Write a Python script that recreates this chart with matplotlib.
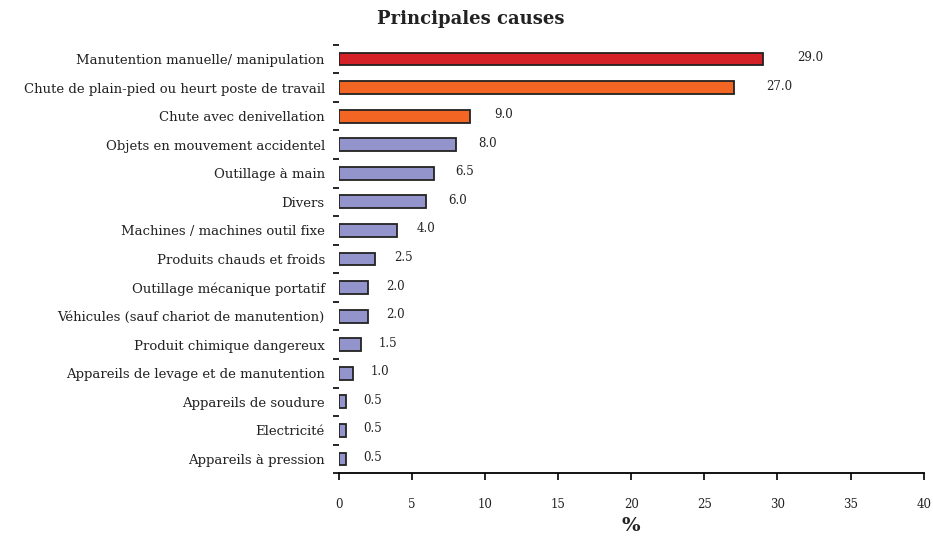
import numpy as np
import matplotlib

matplotlib.use("Agg")
import matplotlib.pyplot as plt

CAUSES = [
    "Manutention manuelle/ manipulation",
    "Chute de plain-pied ou heurt poste de travail",
    "Chute avec denivellation",
    "Objets en mouvement accidentel",
    "Outillage à main",
    "Divers",
    "Machines / machines outil fixe",
    "Produits chauds et froids",
    "Outillage mécanique portatif",
    "Véhicules (sauf chariot de manutention)",
    "Produit chimique dangereux",
    "Appareils de levage et de manutention",
    "Appareils de soudure",
    "Electricité",
    "Appareils à pression",
]
PERCENT = [29.0, 27.0, 9.0, 8.0, 6.5, 6.0, 4.0, 2.5, 2.0, 2.0, 1.5, 1.0, 0.5, 0.5, 0.5]
X_TICKS = [0, 5, 10, 15, 20, 25, 30, 35, 40]

RED, ORANGE, LAVENDER = "#d42027", "#f26522", "#9494cc"
colors = [RED, ORANGE, ORANGE] + [LAVENDER] * (len(CAUSES) - 3)

plt.rcParams["font.family"] = ["DejaVu Serif"]

fig = plt.figure(figsize=(9.33, 5.39), dpi=100)
ax = fig.add_axes([0.363, 0.122, 0.627, 0.795])

y = np.arange(len(CAUSES))
ax.barh(y, PERCENT, height=0.45, color=colors, edgecolor="#222222", linewidth=1.3)

# value labels, pushed a bit further out for the long bars (as in the source)
for yi, v in zip(y, PERCENT):
    ax.text(v * 1.05 + 1.8, yi - 0.05, f"{v:.1f}", ha="center", va="center",
            fontsize=8.5, color="#222222")

ax.set_ylim(len(CAUSES) - 0.5, -0.5)
ax.set_xlim(0, 40)
ax.set_yticks(y)
ax.set_yticklabels(CAUSES, fontsize=9.5, color="#222222")
ax.set_yticks(np.arange(len(CAUSES) + 1) - 0.5, minor=True)
ax.tick_params(axis="y", which="major", length=0, pad=10)
ax.tick_params(axis="y", which="minor", length=4, width=1.2, direction="out")

ax.set_xticks(X_TICKS)
ax.tick_params(axis="x", length=5, width=1.2, direction="out", pad=13,
               labelsize=8.5, labelcolor="#222222")

for side in ["top", "right", "left"]:
    ax.spines[side].set_visible(False)
ax.spines["bottom"].set_linewidth(1.3)

ax.set_xlabel("%", fontsize=14, fontweight="bold", labelpad=4, color="#222222")
fig.text(0.505, 0.965, "Principales causes", ha="center", va="center",
         fontsize=13, fontweight="bold", color="#222222")

fig.savefig("out.png", dpi=100)
